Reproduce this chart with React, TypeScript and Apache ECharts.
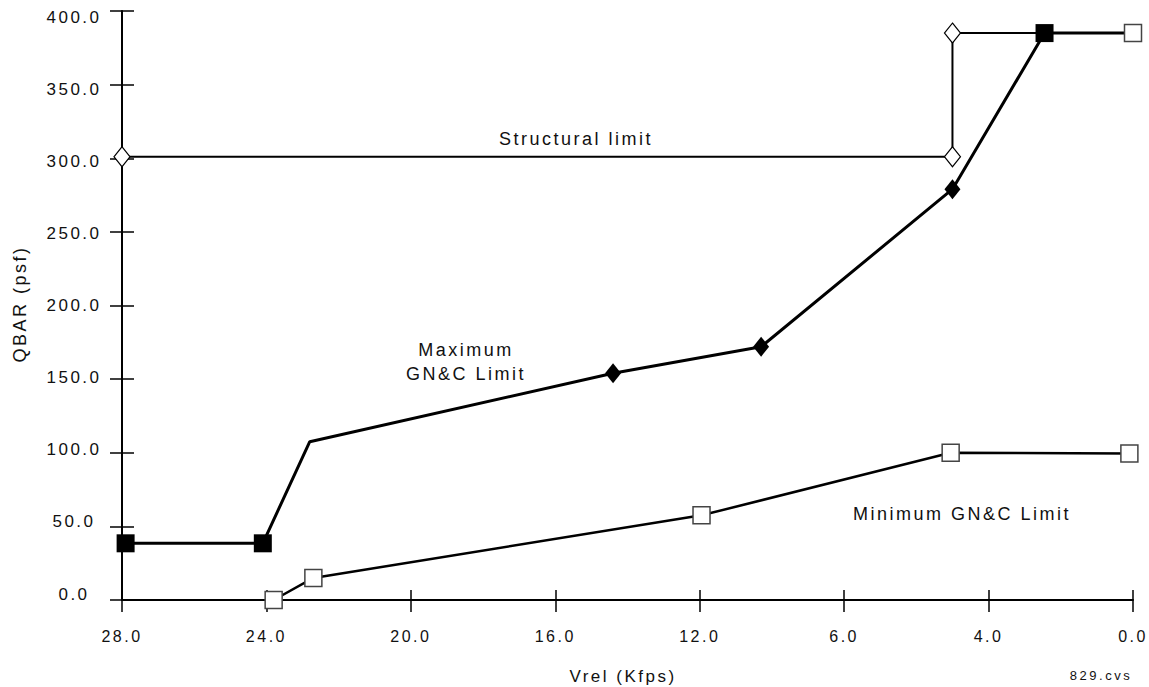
import React, { useEffect, useRef } from "react";
import * as echarts from "echarts";

// ---- data ----
const xTickLabels = ["28.0", "24.0", "20.0", "16.0", "12.0", "6.0", "4.0", "0.0"];
const X_MAX = 28;
const X_STEP = 4;
const Y_MAX = 400;
const Y_STEP = 50;

// Structural limit: Vrel (Kfps), QBAR (psf)
const structuralX = [28, 5.0, 5.0, 2.45];
const structuralY = [301, 301, 385, 385];
const structuralMarkers = ["openDiamond", "openDiamond", "openDiamond", "none"];

// Maximum GN&C limit
const maxX = [27.9, 24.1, 22.8, 14.4, 10.3, 5.0, 2.45, 0];
const maxY = [38.5, 38.5, 107.5, 154, 172, 279, 385, 385];
const maxMarkers = [
  "filledSquare",
  "filledSquare",
  "none",
  "filledDiamond",
  "filledDiamond",
  "filledDiamond",
  "filledSquare",
  "openSquare",
];

// Minimum GN&C limit
const minX = [23.8, 22.7, 11.95, 5.05, 0.1];
const minY = [0, 15, 57.5, 100, 99.5];
const minMarkers = ["openSquare", "openSquare", "openSquare", "openSquare", "openSquare"];

const FONT = "'Liberation Sans', Arial, sans-serif";
const INK = "#111";

const markerStyles: Record<string, any> = {
  none: { symbol: "none" },
  openDiamond: {
    symbol: "diamond",
    symbolSize: [16, 20],
    itemStyle: { color: "#fff", borderColor: "#000", borderWidth: 1.2 },
  },
  filledDiamond: {
    symbol: "diamond",
    symbolSize: [16, 20],
    itemStyle: { color: "#000", borderColor: "#000", borderWidth: 0 },
  },
  filledSquare: {
    symbol: "rect",
    symbolSize: 18,
    itemStyle: { color: "#000", borderColor: "#000", borderWidth: 0 },
  },
  openSquare: {
    symbol: "rect",
    symbolSize: 17,
    itemStyle: { color: "#fff", borderColor: "#444", borderWidth: 1.5 },
  },
};

function buildData(xs: number[], ys: number[], markers: string[]) {
  return xs.map((x, i) => ({ value: [x, ys[i]], ...markerStyles[markers[i]] }));
}

export default function App() {
  const ref = useRef<HTMLDivElement>(null);

  useEffect(() => {
    if (!ref.current) return;
    const chart = echarts.init(ref.current, undefined, { renderer: "svg" });

    const gridBox = { left: 122, right: 16, top: 11, bottom: 87 };
    const lineAxis = { show: true, onZero: false, lineStyle: { color: "#000", width: 2 } };
    const tickStyle = { color: "#000", width: 1.5 };

    const option: any = {
      animation: false,
      backgroundColor: "#fff",
      textStyle: { fontFamily: FONT, color: INK },
      grid: [
        { ...gridBox },
        { ...gridBox },
        { left: 122, right: 16, top: 17, bottom: 93 },
      ],
      xAxis: [
        {
          type: "value",
          gridIndex: 0,
          min: 0,
          max: X_MAX,
          interval: X_STEP,
          inverse: true,
          position: "bottom",
          axisLine: lineAxis,
          axisTick: { show: true, inside: false, length: 12, lineStyle: tickStyle },
          axisLabel: {
            show: true,
            margin: 28,
            fontSize: 16,
            fontFamily: FONT,
            color: INK,
            formatter: (v: number) => xTickLabels[Math.round((X_MAX - v) / X_STEP)] ?? "",
          },
          splitLine: { show: false },
        },
        {
          type: "value",
          gridIndex: 1,
          min: 0,
          max: X_MAX,
          interval: X_STEP,
          inverse: true,
          position: "bottom",
          axisLine: { show: false, onZero: false },
          axisTick: { show: true, inside: true, length: 10, lineStyle: tickStyle },
          axisLabel: { show: false },
          splitLine: { show: false },
        },
        {
          type: "value",
          gridIndex: 2,
          min: 0,
          max: X_MAX,
          show: false,
        },
      ],
      yAxis: [
        {
          type: "value",
          gridIndex: 0,
          min: 0,
          max: Y_MAX,
          interval: Y_STEP,
          position: "left",
          axisLine: lineAxis,
          axisTick: { show: true, inside: false, length: 12, lineStyle: tickStyle },
          axisLabel: { show: false },
          splitLine: { show: false },
        },
        {
          type: "value",
          gridIndex: 1,
          min: 0,
          max: Y_MAX,
          interval: Y_STEP,
          position: "left",
          axisLine: { show: false, onZero: false },
          axisTick: { show: true, inside: true, length: 12, lineStyle: tickStyle },
          axisLabel: { show: false },
          splitLine: { show: false },
        },
        {
          type: "value",
          gridIndex: 2,
          min: 0,
          max: Y_MAX,
          interval: Y_STEP,
          position: "left",
          axisLine: { show: false, onZero: false },
          axisTick: { show: false },
          axisLabel: {
            show: true,
            align: "center",
            margin: 48,
            fontSize: 17,
            fontFamily: FONT,
            color: INK,
            formatter: (v: number) => v.toFixed(1),
          },
          splitLine: { show: false },
        },
      ],
      series: [
        {
          name: "Structural limit",
          type: "line",
          xAxisIndex: 0,
          yAxisIndex: 0,
          clip: false,
          showSymbol: true,
          lineStyle: { color: "#000", width: 2 },
          emphasis: { disabled: true },
          data: buildData(structuralX, structuralY, structuralMarkers),
        },
        {
          name: "Minimum GN&C Limit",
          type: "line",
          xAxisIndex: 0,
          yAxisIndex: 0,
          clip: false,
          showSymbol: true,
          lineStyle: { color: "#000", width: 2.5 },
          emphasis: { disabled: true },
          data: buildData(minX, minY, minMarkers),
        },
        {
          name: "Maximum GN&C Limit",
          type: "line",
          xAxisIndex: 0,
          yAxisIndex: 0,
          clip: false,
          showSymbol: true,
          lineStyle: { color: "#000", width: 3 },
          emphasis: { disabled: true },
          data: buildData(maxX, maxY, maxMarkers),
        },
      ],
      graphic: [
        {
          type: "text",
          x: 576,
          y: 139,
          style: { text: "Structural limit", fontSize: 18, fontFamily: FONT, fill: INK, align: "center", verticalAlign: "middle" },
        },
        {
          type: "text",
          x: 466,
          y: 362,
          style: {
            text: "Maximum\nGN&C Limit",
            fontSize: 18,
            lineHeight: 24,
            fontFamily: FONT,
            fill: INK,
            align: "center",
            verticalAlign: "middle",
          },
        },
        {
          type: "text",
          x: 962,
          y: 514,
          style: { text: "Minimum GN&C Limit", fontSize: 18, fontFamily: FONT, fill: INK, align: "center", verticalAlign: "middle" },
        },
        {
          type: "text",
          x: 623,
          y: 676,
          style: { text: "Vrel (Kfps)", fontSize: 17, fontFamily: FONT, fill: INK, align: "center", verticalAlign: "middle" },
        },
        {
          type: "text",
          x: 1101,
          y: 675,
          style: { text: "829.cvs", fontSize: 13, fontFamily: FONT, fill: INK, align: "center", verticalAlign: "middle" },
        },
        {
          type: "text",
          x: 20,
          y: 304,
          rotation: Math.PI / 2,
          style: { text: "QBAR (psf)", fontSize: 18, fontFamily: FONT, fill: INK, align: "center", verticalAlign: "middle" },
        },
      ],
    };

    chart.setOption(option);
    return () => {
      chart.dispose();
    };
  }, []);

  return (
    <div
      ref={ref}
      style={{
        position: "fixed",
        left: 0,
        top: 0,
        width: 1149,
        height: 687,
        background: "#fff",
        letterSpacing: "2.5px",
      }}
    />
  );
}
